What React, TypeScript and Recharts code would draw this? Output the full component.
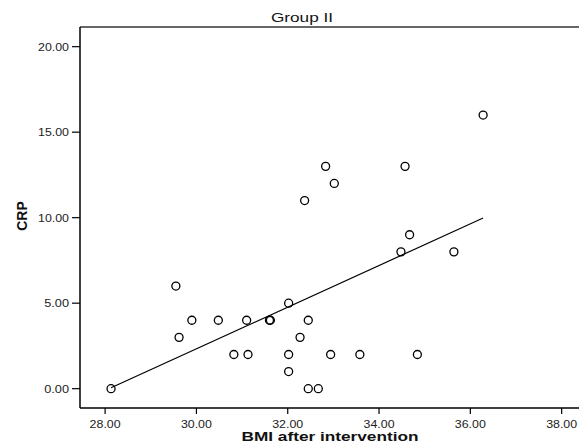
import {
  ScatterChart,
  Scatter,
  XAxis,
  YAxis,
  ReferenceLine,
} from "recharts";

const bmi = [
  28.13, 29.55, 29.62, 29.9, 30.48, 30.82, 31.1, 31.13, 31.6, 31.62, 32.02,
  32.02, 32.02, 32.27, 32.37, 32.45, 32.45, 32.67, 32.83, 32.94, 33.02, 33.58,
  34.48, 34.57, 34.67, 34.84, 35.64, 36.28,
];
const crp = [
  0, 6, 3, 4, 4, 2, 4, 2, 4, 4, 5, 2, 1, 3, 11, 4, 0, 0, 13, 2, 12, 2, 8, 13, 9,
  2, 8, 16,
];
const fitLine = [
  { x: 28.13, y: 0.05 },
  { x: 36.28, y: 9.98 },
];
const xTicks = [28, 30, 32, 34, 36, 38];
const yTicks = [0, 5, 10, 15, 20];

const xDomain = [27.45, 38.38];
const yDomain = [-1.13, 21.15];

const font = "Arial, 'Liberation Sans', sans-serif";

const points = bmi.map((x, i) => ({ x, y: crp[i] }));

const OpenCircle = (props: any) => (
  <circle
    cx={props.cx}
    cy={props.cy}
    r={4}
    fill="none"
    stroke="#000"
    strokeWidth={1.3}
  />
);

// SPSS output uses slightly stretched labels, so force the width
const XTick = (props: any) => {
  const { x, y, payload } = props;
  const label = payload.value.toFixed(2);
  return (
    <text
      x={x}
      y={y}
      dy="0.71em"
      textAnchor="middle"
      fontFamily={font}
      fontSize={11}
      fill="#222"
      textLength={label.length * 6.2}
      lengthAdjust="spacingAndGlyphs"
    >
      {label}
    </text>
  );
};

const YTick = (props: any) => {
  const { x, y, payload } = props;
  const label = payload.value.toFixed(2);
  return (
    <text
      x={x}
      y={y}
      dy="0.355em"
      textAnchor="end"
      fontFamily={font}
      fontSize={11}
      fill="#222"
      textLength={label.length * 6.2}
      lengthAdjust="spacingAndGlyphs"
    >
      {label}
    </text>
  );
};

export default function App() {
  return (
    <div style={{ position: "absolute", left: 0, top: 0, width: 579, height: 446, background: "#fff" }}>
      <ScatterChart width={579} height={446} margin={{ top: 27, right: 0, bottom: 0, left: 0 }}>
        <XAxis
          type="number"
          dataKey="x"
          domain={xDomain}
          ticks={xTicks}
          allowDataOverflow
          tick={<XTick />}
          tickSize={6}
          tickMargin={6}
          height={38}
          axisLine={{ stroke: "#000", strokeWidth: 1.5 }}
          tickLine={{ stroke: "#000", strokeWidth: 1.2 }}
          label={() => (
            <text
              x={330}
              y={441}
              textAnchor="middle"
              fontFamily={font}
              fontSize={13}
              fontWeight="bold"
              fill="#111"
              textLength={177}
              lengthAdjust="spacingAndGlyphs"
            >
              BMI after intervention
            </text>
          )}
        />
        <YAxis
          type="number"
          dataKey="y"
          domain={yDomain}
          ticks={yTicks}
          allowDataOverflow
          tick={<YTick />}
          tickSize={8}
          tickMargin={3}
          width={80}
          axisLine={{ stroke: "#000", strokeWidth: 1.5 }}
          tickLine={{ stroke: "#000", strokeWidth: 1.2 }}
          label={() => (
            <text
              x={0}
              y={0}
              transform="translate(27 216) rotate(-90)"
              textAnchor="middle"
              fontFamily={font}
              fontSize={14}
              fontWeight="bold"
              fill="#111"
            >
              CRP
            </text>
          )}
        />
        <ReferenceLine
          y={yDomain[1]}
          stroke="#333"
          strokeWidth={1.5}
          label={() => (
            <text
              x={302}
              y={22}
              textAnchor="middle"
              fontFamily={font}
              fontSize={13}
              fill="#111"
              textLength={62}
              lengthAdjust="spacingAndGlyphs"
            >
              Group II
            </text>
          )}
        />
        <ReferenceLine segment={fitLine} stroke="#000" strokeWidth={1.2} />
        <Scatter data={points} shape={<OpenCircle />} isAnimationActive={false} />
      </ScatterChart>
    </div>
  );
}
